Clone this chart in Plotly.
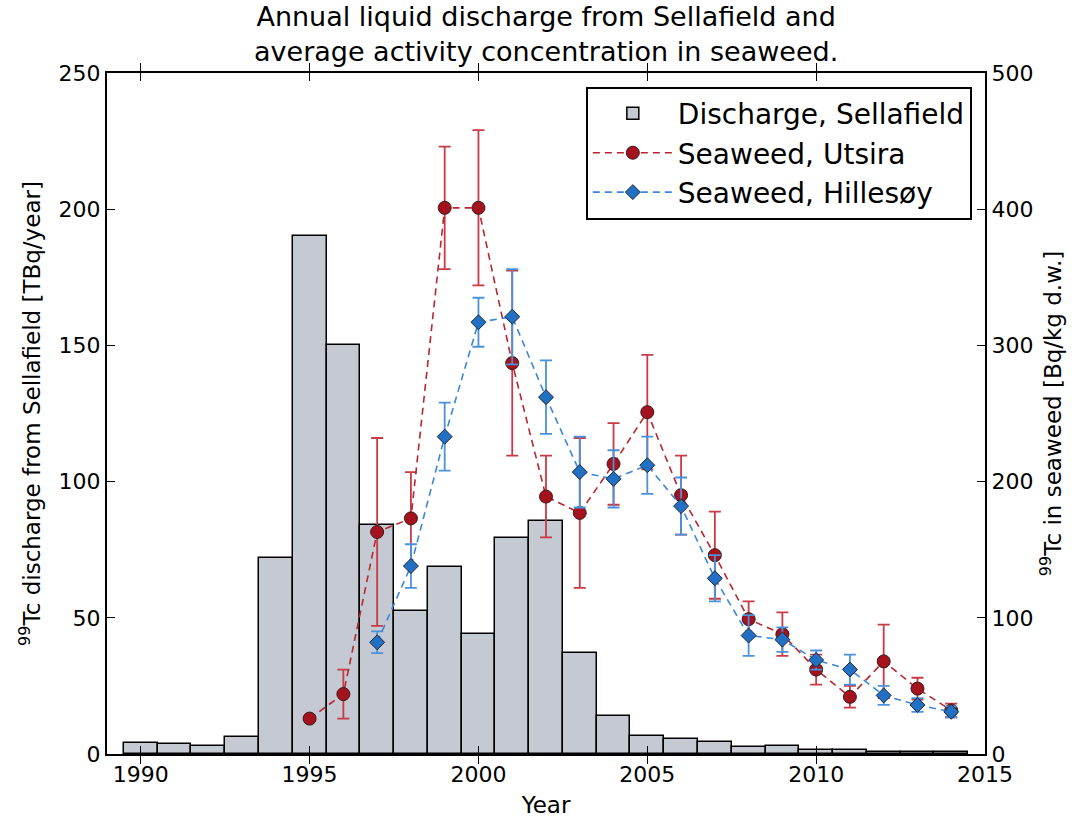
import plotly.graph_objects as go

# Annual Tc-99 liquid discharge from Sellafield (TBq/year)
discharge_years = list(range(1990, 2015))
discharge_tbq = [4.1, 3.7, 3.0, 6.2, 72, 190, 150, 84, 52.6, 68.8, 44.2, 79.2, 85.5,
                 37.0, 14.1, 6.6, 5.5, 4.5, 2.4, 3.0, 1.5, 1.3, 0.9, 0.9, 0.9]

# Seaweed at Utsira (Bq/kg d.w.)
utsira_years = list(range(1995, 2015))
utsira_conc = [26, 44, 163, 173, 401, 401, 287, 189, 177, 213, 251, 190, 146, 99,
               88, 62, 42, 68, 48, 32]
utsira_err = [0, 18, 69, 34, 45, 57, 68, 30, 55, 30, 42, 29, 32, 13, 16, 11, 8, 27, 8, 5]

# Seaweed at Hillesøy (Bq/kg d.w.)
hillesoy_years = list(range(1997, 2015))
hillesoy_conc = [82, 138, 233, 317, 321, 262, 207, 202, 212, 182, 129, 87, 84, 69,
                 62, 43, 36, 31]
hillesoy_err = [8, 16, 25, 18, 35, 27, 26, 21, 21, 21, 17, 15, 9, 7, 11, 7, 5, 4]

FONT = "DejaVu Sans"
TITLE = "Annual liquid discharge from Sellafield and<br>average activity concentration in seaweed."

fig = go.Figure()

fig.add_trace(go.Bar(
    x=discharge_years, y=discharge_tbq, width=1,
    name="Discharge, Sellafield", legendgroup="a",
    marker=dict(color="#c5c9d2", line=dict(color="black", width=1.5)),
    yaxis="y",
))

fig.add_trace(go.Scatter(
    x=utsira_years, y=utsira_conc, name="Seaweed, Utsira", legendgroup="b",
    mode="lines+markers",
    line=dict(color="#b8262f", width=1.6, dash="7px,5px"),
    marker=dict(symbol="circle", size=13, color="#a3121d",
                line=dict(color="#3a1a1a", width=1)),
    error_y=dict(type="data", array=utsira_err, visible=True,
                 color="#c83a45", thickness=1.8, width=6),
    yaxis="y2",
))

fig.add_trace(go.Scatter(
    x=hillesoy_years, y=hillesoy_conc, name="Seaweed, Hillesøy", legendgroup="c",
    mode="lines+markers",
    line=dict(color="#3d86d6", width=1.6, dash="7px,5px"),
    marker=dict(symbol="diamond", size=11.5, color="#2270c4",
                line=dict(color="#1a2a3a", width=1)),
    error_y=dict(type="data", array=hillesoy_err, visible=True,
                 color="#4b92dc", thickness=1.8, width=6),
    yaxis="y2",
))

fig.update_layout(
    width=1080, height=823,
    margin=dict(l=107, r=95, t=73, b=69),
    paper_bgcolor="white", plot_bgcolor="white",
    font=dict(family=FONT, size=22, color="black"),
    annotations=[dict(
        text=TITLE, xref="paper", yref="paper", x=0.5, y=1,
        xanchor="center", yanchor="bottom", yshift=4, showarrow=False,
        align="center", font=dict(size=27),
    )],
    bargap=0,
    showlegend=True,
    legend=dict(
        x=0.985, y=0.98, xanchor="right", yanchor="top",
        bgcolor="white", bordercolor="black", borderwidth=2,
        font=dict(size=28), tracegroupgap=6, traceorder="normal",
        itemwidth=80,
    ),
    xaxis=dict(
        range=[1989, 2015], tickvals=[1990, 1995, 2000, 2005, 2010, 2015],
        ticks="inside", ticklen=8, tickcolor="black", tickwidth=1,
        showline=True, linecolor="black", linewidth=2, mirror="allticks",
        showgrid=False, zeroline=False, automargin=False,
        title=dict(text="Year", font=dict(size=23), standoff=10),
    ),
    yaxis=dict(
        range=[0, 250], tickvals=[0, 50, 100, 150, 200, 250],
        ticks="inside", ticklen=8, tickcolor="black", tickwidth=1,
        showline=True, linecolor="black", linewidth=2,
        showgrid=False, zeroline=False, automargin=False,
        title=dict(text="<sup>99</sup>Tc discharge from Sellafield [TBq/year]",
                   font=dict(size=23), standoff=12),
    ),
    yaxis2=dict(
        range=[0, 500], tickvals=[0, 100, 200, 300, 400, 500],
        overlaying="y", side="right",
        ticks="inside", ticklen=8, tickcolor="black", tickwidth=1,
        showline=True, linecolor="black", linewidth=2,
        showgrid=False, zeroline=False, automargin=False,
        title=dict(text="<sup>99</sup>Tc in seaweed [Bq/kg d.w.]",
                   font=dict(size=23), standoff=12),
    ),
)

fig.write_html("out.html")
